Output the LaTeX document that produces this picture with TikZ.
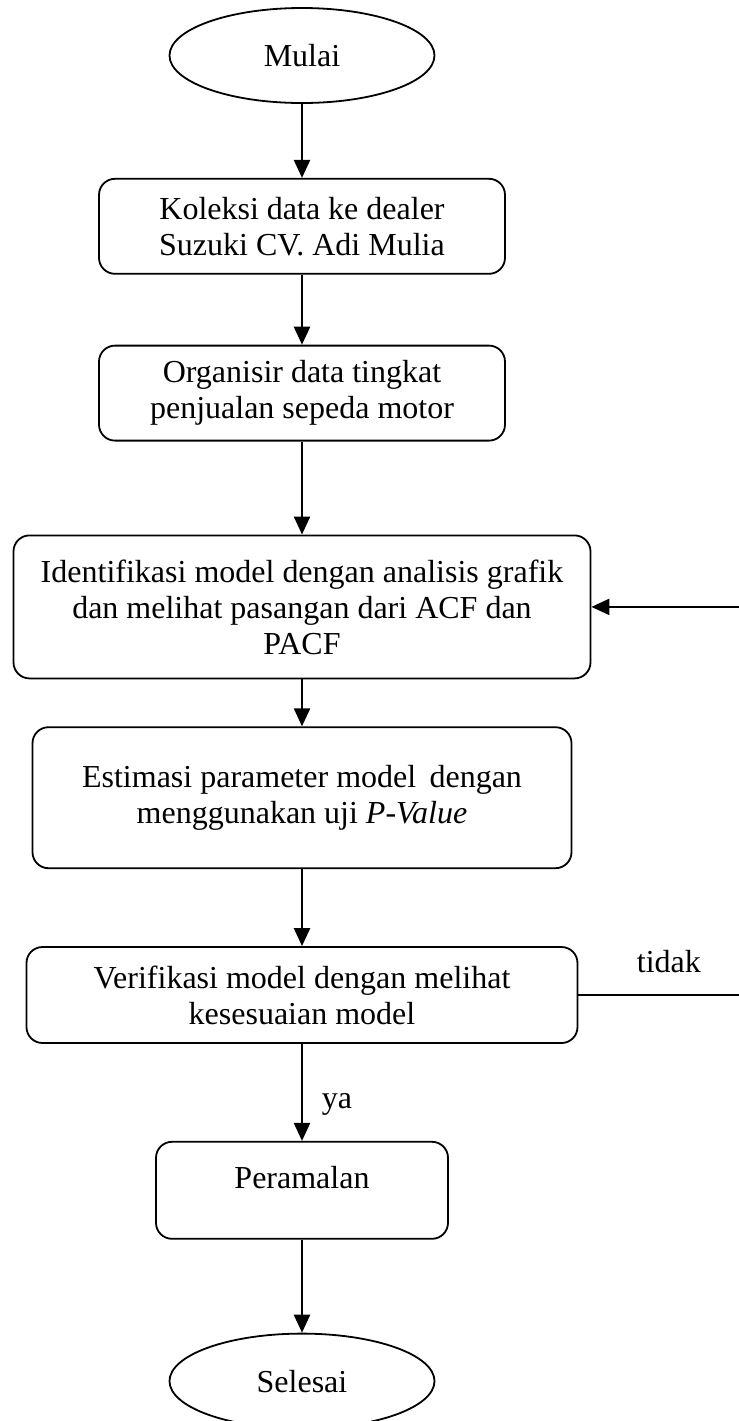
\documentclass[tikz,border=0pt]{standalone}
\usepackage{fontspec}
\setmainfont{Liberation Serif}
\usetikzlibrary{shapes.geometric, arrows.meta, positioning}
\tikzset{
  proc/.style={draw, line width=0.9pt, rounded corners=8pt, align=center,
               font=\fontsize{16}{18}\selectfont, inner sep=0pt},
  term/.style={draw, ellipse, line width=0.9pt, inner sep=0pt,
               font=\fontsize{16}{18}\selectfont,
               minimum width=132.5pt, minimum height=47.5pt},
  lbl/.style={font=\fontsize{16}{18}\selectfont},
  arr/.style={-{Triangle[length=9pt,width=8pt]}, line width=1.2pt}
}

\begin{document}
\begin{tikzpicture}
  \useasboundingbox (0,0) rectangle (369.5pt,-710.5pt);
  \node[term] (M) at (151pt,-27.75pt) {Mulai};
  \node[proc,minimum width=203pt,minimum height=47.5pt,below=37pt of M] (K) {Koleksi data ke dealer\\Suzuki CV. Adi Mulia};
  \node[proc,minimum width=203pt,minimum height=47.5pt,below=35pt of K] (O) {Organisir data tingkat\\penjualan sepeda motor};
  \node[proc,minimum width=288.5pt,minimum height=71.5pt,below=46.5pt of O] (I) {Identifikasi model dengan analisis grafik\\dan melihat pasangan dari ACF dan\\PACF};
  \node[proc,minimum width=269.5pt,minimum height=70.5pt,below=23.5pt of I] (E) {Estimasi parameter model\, dengan\\menggunakan uji \textit{P-Value}};
  \node[proc,minimum width=275.5pt,minimum height=48pt,below=38.5pt of E] (V) {Verifikasi model dengan melihat\\kesesuaian model};
  \node[proc,minimum width=146pt,minimum height=48.5pt,text depth=13pt,below=48.5pt of V] (P) {Peramalan};
  \node[term,below=46.5pt of P] (S) {Selesai};
  \coordinate (R) at (373pt,0);
  \draw[arr](M)--(K); \draw[arr](K)--(O); \draw[arr](O)--(I);
  \draw[arr](I)--(E); \draw[arr](E)--(V); \draw[arr](P)--(S);
  \draw[arr](V)--(P) node[lbl,pos=0.62,right=6pt]{ya};
  \draw[arr](V.east)--node[lbl,pos=0.54,above=7pt]{tidak}(V.east -| R)|-(I.east);
\end{tikzpicture}
\end{document}
